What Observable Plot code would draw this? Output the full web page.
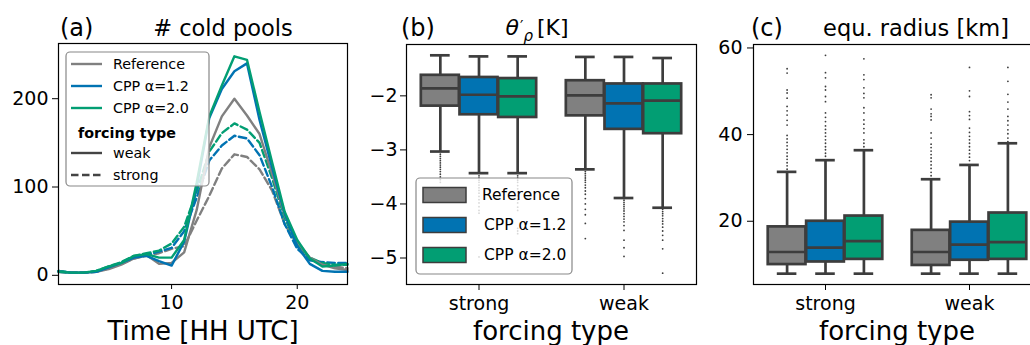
<!DOCTYPE html>
<html><head><meta charset="utf-8">
<script src="https://cdn.jsdelivr.net/npm/d3@7"></script>
<script src="https://cdn.jsdelivr.net/npm/@observablehq/plot@0.6"></script>
<style>
body{margin:0;background:#fff;}
#fig{position:relative;width:1030px;height:345px;overflow:hidden;background:#fff;font-family:"DejaVu Sans",sans-serif;}
#fig svg{position:absolute;top:0;}
</style></head><body><div id="fig"></div>
<script>
// ---------- data ----------
const hours = [1,2,3,4,5,6,7,8,9,10,11,12,13,14,15,16,17,18,19,20,21,22,23,24];
const refWeak    = [4,3,3,4,7,12,19,23,13,14,26,74,145,180,200,181,160,115,68,38,20,12,8,6];
const cpp12Weak  = [4,3,3,4,9,14,20,22,16,11,38,100,178,211,231,240,176,122,70,33,13,5,4,4];
const cpp20Weak  = [4,3,3,5,10,14,22,24,20,20,40,105,180,215,248,244,185,128,72,40,19,10,11,13];
const refStrong  = [4,3,3,4,8,13,19,22,25,30,33,62,90,121,137,134,120,96,58,35,18,12,10,8];
const cpp12Strong= [5,3,3,4,9,14,20,23,27,31,50,88,130,147,158,155,136,100,58,30,17,15,14,14];
const cpp20Strong= [5,3,3,5,10,15,22,25,28,36,55,95,140,161,172,165,150,110,65,35,20,14,12,12];

const expNames = ["Reference","CPP α=1.2","CPP α=2.0"];
const expColors = ["#808080","#0173b2","#029e73"];
const forcingTypes = ["strong","weak"];

// box statistics, order: strong-Ref, strong-1.2, strong-2.0, weak-Ref, weak-1.2, weak-2.0
const thetaHi  = [-1.25,-1.27,-1.27,-1.28,-1.28,-1.30];
const thetaQ3  = [-1.62,-1.66,-1.68,-1.72,-1.78,-1.78];
const thetaMed = [-1.86,-1.98,-2.01,-1.99,-2.14,-2.09];
const thetaQ1  = [-2.19,-2.35,-2.40,-2.37,-2.62,-2.70];
const thetaLo  = [-3.03,-3.43,-3.43,-3.36,-3.89,-4.07];
const thetaOut = [
  [-3.08,-3.12,-3.16,-3.2,-3.24,-3.28,-3.32,-3.36,-3.4,-3.45,-3.5,-3.55,-3.6],
  [-3.48,-3.52,-3.56,-3.6,-3.65,-3.7,-3.75,-3.8,-3.86,-3.92,-3.98,-4.05,-4.12,-4.17,-4.98],
  [-3.48,-3.52,-3.56,-3.6,-3.66,-3.72,-3.78,-3.85,-3.92,-3.98,-4.06,-4.12,-4.45,-4.5,-4.55],
  [-3.4,-3.44,-3.48,-3.52,-3.56,-3.6,-3.65,-3.7,-3.76,-3.82,-3.9,-4.0,-4.1,-4.2,-4.36,-4.64],
  [-3.93,-3.97,-4.01,-4.05,-4.09,-4.13,-4.18,-4.23,-4.28,-4.33,-4.4,-4.49,-4.67,-4.81,-4.97],
  [-4.1,-4.14,-4.18,-4.22,-4.27,-4.32,-4.37,-4.43,-4.5,-4.58,-4.67,-4.83,-5.28]
];
const radHi  = [31.4,34.1,36.4,29.7,33.0,38.0];
const radQ3  = [18.7,20.0,21.2,17.9,19.8,21.9];
const radMed = [12.9,13.9,15.4,12.9,14.6,15.2];
const radQ1  = [10.0,10.6,11.2,9.8,11.0,11.2];
const radLo  = [7.9,7.9,7.9,7.9,7.9,7.9];
const radOut = [
  [32,32.8,33.5,34.3,35,35.8,36.6,37.4,38.2,39,39.8,42.2,43.3,44.5,45.5,46.5,48.4,49.6,50.3,54.2,55.2],
  [35,35.7,36.5,37.2,38,38.8,39.6,40.4,41.2,42,43,44,45,47.6,48.8,50.3,51.1,53.1,54.3,58.3],
  [37.2,38,38.8,40.4,41.4,42.4,43.4,45,46.2,48.5,49.5,50.8,52.7,53.8,57.5],
  [30.5,31.3,32.2,33,33.8,34.6,35.4,36.2,37,37.8,39.2,40.4,43.4,44.2,44.8,45.9,48.5,49.2],
  [34,34.8,35.6,36.4,37.2,38,38.8,39.6,40.5,41.5,43.5,44.4,45.3,48.8,50.1,55.5],
  [38.4,39.2,40.2,41.1,42.2,43.2,44.2,45.9,47.5,49.3,52.3,55.5]
];

// ---------- helpers ----------
const fig = document.getElementById("fig");
const EDGE = "#3d3d3d";
const baseStyle = {fontFamily:"DejaVu Sans", fontSize:"19px", color:"black", background:"transparent", overflow:"visible"};

function place(svg, left){ svg.style.left = left + "px"; fig.appendChild(svg); return d3.select(svg); }
function txt(g, x, y, s, o={}) {
  const t = g.append("text").attr("x", x).attr("y", y).text(s)
    .attr("font-family","DejaVu Sans").attr("font-size", o.size||19)
    .attr("text-anchor", o.anchor||"start").attr("fill","black");
  if (o.weight) t.attr("font-weight", o.weight);
  if (o.style) t.attr("font-style", o.style);
  if (o.baseline) t.attr("dominant-baseline", o.baseline);
  return t;
}

// ---------- panel (a) ----------
const lineSeries = [
  {exp:0, forcing:"weak", values:refWeak},
  {exp:1, forcing:"weak", values:cpp12Weak},
  {exp:2, forcing:"weak", values:cpp20Weak},
  {exp:0, forcing:"strong", values:refStrong},
  {exp:1, forcing:"strong", values:cpp12Strong},
  {exp:2, forcing:"strong", values:cpp20Strong}
];
const lineRows = lineSeries.flatMap(s => hours.map((h,i) => ({hour:h, value:s.values[i], exp:expNames[s.exp], forcing:s.forcing})));

const svgA = Plot.plot({
  width:350, height:345, marginLeft:58, marginRight:3, marginTop:43, marginBottom:61,
  style: baseStyle,
  x:{domain:[1,24], ticks:[10,20], tickSize:5, tickPadding:6, label:null},
  y:{domain:[-10.4,262.5], ticks:[0,100,200], tickSize:6, tickPadding:4, label:null},
  color:{type:"ordinal", domain:expNames, range:expColors},
  marks:[
    Plot.line(lineRows.filter(d=>d.forcing==="strong"), {x:"hour", y:"value", z:"exp", stroke:"exp", strokeWidth:2.4, strokeDasharray:"7.5,3.5"}),
    Plot.line(lineRows.filter(d=>d.forcing==="weak"), {x:"hour", y:"value", z:"exp", stroke:"exp", strokeWidth:2.4}),
    Plot.frame({stroke:"black", strokeWidth:1.2})
  ]
});
const gA = place(svgA, 0);
txt(gA, 60, 36, "(a)", {size:24});
txt(gA, 223, 36, "# cold pools", {size:22.5, anchor:"middle"});
txt(gA, 203, 340, "Time [HH UTC]", {size:26, anchor:"middle"});
{
  const L = gA.append("g");
  L.append("rect").attr("x",66).attr("y",52).attr("width",143).attr("height",134).attr("rx",4)
    .attr("fill","white").attr("fill-opacity",0.8).attr("stroke","#888").attr("stroke-width",1.2);
  const rows = [64,86,108];
  expNames.forEach((n,i)=>{
    L.append("line").attr("x1",71).attr("x2",102).attr("y1",rows[i]).attr("y2",rows[i]).attr("stroke",expColors[i]).attr("stroke-width",2.4);
    txt(L, 113, rows[i], n, {size:14.3, baseline:"central"});
  });
  txt(L, 78, 133, "forcing type", {size:14.3, weight:"bold", baseline:"central"});
  L.append("line").attr("x1",71).attr("x2",102).attr("y1",153).attr("y2",153).attr("stroke","#444").attr("stroke-width",2.4);
  txt(L, 113, 153, "weak", {size:14.3, baseline:"central"});
  L.append("line").attr("x1",71).attr("x2",102).attr("y1",175).attr("y2",175).attr("stroke","#444").attr("stroke-width",2.4).attr("stroke-dasharray","7.5,3.5");
  txt(L, 113, 175, "strong", {size:14.3, baseline:"central"});
}

// ---------- box panels ----------
const step = 0.2667, hw = 0.131, cw = 0.068;
function boxTable(hi,q3,med,q1,lo){
  return d3.range(6).map(i => ({
    forcing: forcingTypes[Math.floor(i/3)], exp: expNames[i%3],
    xpos: Math.floor(i/3) + (i%3 - 1)*step,
    hi:hi[i], q3:q3[i], med:med[i], q1:q1[i], lo:lo[i]
  }));
}
function outTable(outs){
  return outs.flatMap((arr,i) => arr.map(v => ({xpos: Math.floor(i/3) + (i%3 - 1)*step, value:v})));
}
function boxPlot(boxes, outs, yopt, ml, mr){
  return Plot.plot({
    width:350, height:345, marginLeft:ml, marginRight:mr, marginTop:44, marginBottom:61,
    style: baseStyle,
    x:{domain:[-0.5,1.5], ticks:[0,1], tickFormat:i=>forcingTypes[i], tickSize:6, tickPadding:6, label:null},
    y:Object.assign({tickSize:6, label:null, tickFormat:d3.format("d")}, yopt),
    color:{type:"ordinal", domain:expNames, range:expColors},
    marks:[
      Plot.dot(outs, {x:"xpos", y:"value", r:0.9, fill:EDGE, stroke:null}),
      Plot.ruleX(boxes, {x:"xpos", y1:"q3", y2:"hi", stroke:EDGE, strokeWidth:2.7}),
      Plot.ruleX(boxes, {x:"xpos", y1:"lo", y2:"q1", stroke:EDGE, strokeWidth:2.7}),
      Plot.ruleY(boxes, {y:"hi", x1:d=>d.xpos-cw, x2:d=>d.xpos+cw, stroke:EDGE, strokeWidth:2.7}),
      Plot.ruleY(boxes, {y:"lo", x1:d=>d.xpos-cw, x2:d=>d.xpos+cw, stroke:EDGE, strokeWidth:2.7}),
      Plot.rect(boxes, {x1:d=>d.xpos-hw, x2:d=>d.xpos+hw, y1:"q1", y2:"q3", fill:"exp", stroke:EDGE, strokeWidth:2.7}),
      Plot.ruleY(boxes, {y:"med", x1:d=>d.xpos-hw, x2:d=>d.xpos+hw, stroke:EDGE, strokeWidth:2.7}),
      Plot.frame({stroke:"black", strokeWidth:1.2})
    ]
  });
}

// panel (b)
const svgB = boxPlot(boxTable(thetaHi,thetaQ3,thetaMed,thetaQ1,thetaLo), outTable(thetaOut),
  {domain:[-5.49,-1.05], ticks:[-2,-3,-4,-5], tickPadding:3}, 56, 4);
const gB = place(svgB, 350);
txt(gB, 51, 36, "(b)", {size:24});
{
  const t = gB.append("text").attr("x",187).attr("y",35).attr("font-family","DejaVu Sans").attr("font-size",22).attr("fill","black");
  t.append("tspan").attr("font-style","italic").text("θ");
  t.append("tspan").attr("font-size",15).attr("dx",1).attr("dy",-3).text("′");
  t.append("tspan").attr("font-size",15).attr("font-style","italic").attr("dx",0).attr("dy",9).text("ρ");
  t.append("tspan").attr("dx",4).attr("dy",-6).text("[K]");
}
txt(gB, 201, 340, "forcing type", {size:26, anchor:"middle"});
{
  const L = gB.append("g");
  L.append("rect").attr("x",66).attr("y",178).attr("width",156).attr("height",96).attr("rx",4)
    .attr("fill","white").attr("fill-opacity",0.8).attr("stroke","#888").attr("stroke-width",1.2);
  const rows = [195,225,255];
  expNames.forEach((n,i)=>{
    L.append("rect").attr("x",73).attr("y",rows[i]-7.5).attr("width",43).attr("height",15)
      .attr("fill",expColors[i]).attr("stroke",EDGE).attr("stroke-width",1.5);
    txt(L, i===0 ? 132 : 134, rows[i], n, {size:15.5, baseline:"central"});
  });
}

// panel (c)
const svgC = boxPlot(boxTable(radHi,radQ3,radMed,radQ1,radLo), outTable(radOut),
  {domain:[5.4,60.8], ticks:[20,40,60], tickPadding:5}, 53, 9);
const gC = place(svgC, 700);
txt(gC, 51, 36, "(c)", {size:24});
txt(gC, 216, 36, "equ. radius [km]", {size:22.5, anchor:"middle"});
txt(gC, 197, 340, "forcing type", {size:26, anchor:"middle"});
</script>
</body></html>
